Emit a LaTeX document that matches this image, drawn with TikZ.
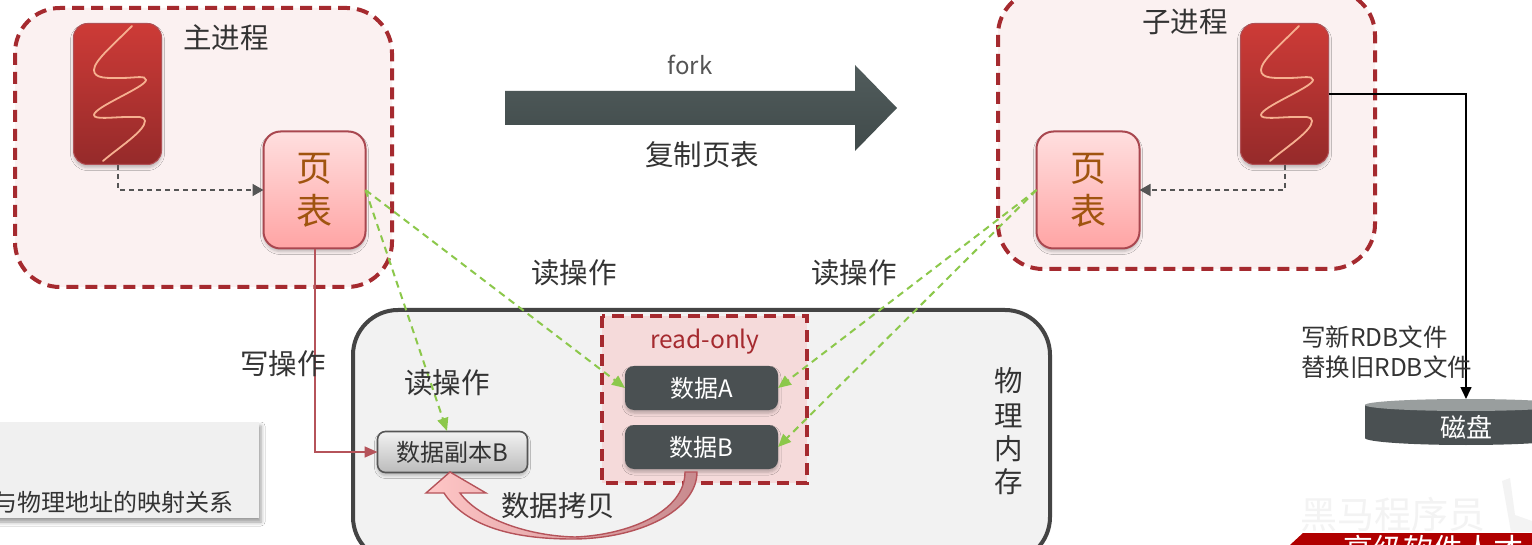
\documentclass[tikz,border=0pt]{standalone}
\usepackage{fontspec}
\setmainfont{Noto Sans CJK SC}
\usetikzlibrary{arrows.meta,shadows.blur,calc}
\definecolor{dred}{HTML}{A52A2F}
\definecolor{procfill}{HTML}{FBF1F1}
\definecolor{slate}{HTML}{4A5052}
\definecolor{gline}{HTML}{8CC84B}
\definecolor{rline}{HTML}{B5535A}
\definecolor{ink}{HTML}{333333}
\definecolor{thtop}{HTML}{CD3B37}
\definecolor{thbot}{HTML}{952A2A}
\definecolor{thedge}{HTML}{B05055}
\definecolor{squigc}{HTML}{F6B090}
\definecolor{ptedge}{HTML}{A9474F}
\definecolor{pttop}{HTML}{FFDFDF}
\definecolor{ptbot}{HTML}{FFA4A4}
\definecolor{pttext}{HTML}{A0540F}
\definecolor{dgrey}{HTML}{555555}
\definecolor{notefill}{HTML}{F0F0F0}
\definecolor{memedge}{HTML}{444444}
\definecolor{memfill}{HTML}{F2F2F2}
\definecolor{rofill}{HTML}{F5DADA}
\definecolor{copybot}{HTML}{BBBBBB}
\definecolor{forktop}{HTML}{515C5C}
\definecolor{forkbot}{HTML}{404A4A}
\definecolor{curvel}{HTML}{FFC6C6}
\definecolor{curver}{HTML}{C88A8E}
\definecolor{disktop}{HTML}{999E9E}
\definecolor{bandred}{HTML}{B00000}
\definecolor{wmark}{HTML}{F3F3F3}
\tikzset{
  x=1pt,y=-1pt,
  every node/.style={inner sep=0pt,outer sep=0pt},
  proc/.style={draw=dred,line width=4pt,fill=procfill,rounded corners=45pt,dash pattern=on 12pt off 7pt},
  threadbox/.style={rounded corners=14pt,top color=thtop,bottom color=thbot,draw=thedge,line width=1pt,
    blur shadow={shadow xshift=0pt,shadow yshift=-3pt,shadow blur radius=3pt,shadow opacity=25}},
  squig/.style={draw=squigc,line width=1.8pt,line cap=round},
  pagetab/.style={draw=ptedge,line width=2pt,rounded corners=17pt,top color=pttop,bottom color=ptbot,
    align=center,text=pttext,font=\fontsize{36pt}{40pt}\selectfont,
    blur shadow={shadow xshift=0pt,shadow yshift=-3pt,shadow blur radius=3pt,shadow opacity=25}},
  label/.style={text=ink,font=\fontsize{28.5pt}{30pt}\selectfont},
  dark/.style={fill=slate,rounded corners=9pt,text=white,font=\fontsize{24pt}{28pt}\selectfont,
    blur shadow={shadow xshift=0pt,shadow yshift=-3pt,shadow blur radius=3pt,shadow opacity=25}},
  dashline/.style={draw=dgrey,line width=1.6pt,dash pattern=on 5pt off 4pt,-{Triangle[length=11pt,width=12pt]}},
  readline/.style={draw=gline,line width=2pt,dash pattern=on 7pt off 5pt,-{Triangle[length=13pt,width=11pt]}},
}
\begin{document}
\begin{tikzpicture}
\useasboundingbox (0,0) rectangle (1532,545);
\clip (0,0) rectangle (1532,545);
\fill[white] (0,0) rectangle (1532,545);
% note panel
\node[fill=notefill,minimum width=280pt,minimum height=96pt,anchor=north east,
  blur shadow={shadow xshift=2pt,shadow yshift=-4pt,shadow blur radius=4pt,shadow opacity=40}] (note) at (259,422) {};
\node[anchor=east,text=ink,font=\fontsize{24pt}{28pt}\selectfont] (notetext) at (234,502) {与物理地址的映射关系};
% process boxes
\draw[proc] (15,8) rectangle (392,287);
\draw[proc] (998,-10) rectangle (1375,269);
% memory
\draw[draw=memedge,line width=4pt,fill=memfill,rounded corners=45pt] (353,310) rectangle (1050,562);
\draw[draw=dred,line width=4pt,fill=rofill,dash pattern=on 12pt off 7pt] (602,316) rectangle (807,483);
\node[text=dred,font=\fontsize{24.5pt}{28pt}\selectfont] (ro) at (705,342) {read-only};
% threads
\node[threadbox,minimum width=88pt,minimum height=141pt,anchor=center] (t1) at (117.5,94) {};
\node[threadbox,minimum width=88pt,minimum height=141pt,anchor=center] (t2) at (1284.5,94) {};
\foreach \sx in {73,1240}{
  \begin{scope}[shift={(\sx,23)}]
  \draw[squig] (59,3) .. controls (40,22) and (21,38) .. (21,47)
     .. controls (21,56) and (35,55) .. (48,55)
     .. controls (62,55) and (73,52) .. (73,57)
     .. controls (73,64) and (21,84) .. (21,92)
     .. controls (21,97) and (40,94) .. (55,94)
     .. controls (65,94) and (72,93) .. (72,98)
     .. controls (72,108) and (45,125) .. (30,138);
  \end{scope}
}
% page tables
\node[pagetab,minimum width=102pt,minimum height=117pt,anchor=center] (p1) at (314.5,190) {\raisebox{-2pt}{页}\\[2pt]\raisebox{-3pt}{表}};
\node[pagetab,minimum width=103pt,minimum height=117pt,anchor=center] (p2) at (1088,190) {\raisebox{-2pt}{页}\\[2pt]\raisebox{-3pt}{表}};
% data boxes
\node[dark,minimum width=153pt,minimum height=44pt,anchor=north west] (da) at (625,366) {数据A};
\node[dark,minimum width=153pt,minimum height=44pt,anchor=north west] (db) at (625,425) {数据B};
\node[draw=dgrey,line width=1.6pt,rounded corners=8pt,top color=white!95!black,bottom color=copybot,
  minimum width=150pt,minimum height=41pt,anchor=center,text=ink,font=\fontsize{24pt}{28pt}\selectfont,
  blur shadow={shadow xshift=0pt,shadow yshift=-3pt,shadow blur radius=3pt,shadow opacity=25}] (copyb) at (452.5,452) {数据副本B};
% fork arrow
\path[top color=forktop,bottom color=forkbot] (505,91) -- (855,91) -- (855,65) -- (897,108) -- (855,151) -- (855,125) -- (505,125) -- cycle;
\node[text=dgrey,font=\fontsize{24pt}{28pt}\selectfont] (fork) at (690,65) {fork};
\node[label] (copypt) at (702,155) {复制页表};
% connectors
\coordinate (t1s) at (118,165);
\coordinate (t2s) at (1285,165);
\coordinate (cbtop) at (447,431);
\coordinate (diskin) at (1466,399);
\coordinate (ptdrop) at (315,249);
\draw[dashline] (t1s) |- (p1.west);
\draw[dashline] (t2s) |- (p2.east);
\draw[readline] (p1.east) -- (da.west);
\draw[readline] (p1.east) -- (cbtop);
\draw[readline] (p2.west) -- (da.east);
\draw[readline] (p2.west) -- (db.east);
\draw[draw=rline,line width=1.6pt,-{Triangle[length=13pt,width=11pt]}] (ptdrop) |- (copyb.west);
\draw[black,line width=1.6pt,-{Triangle[length=12pt,width=11pt]}] (t2.east) -| (diskin);
% copy curved arrow
\draw[draw=rline,line width=1.4pt,left color=curvel,right color=curver,line join=miter]
  (697,472) .. controls (697,510) and (640,539) .. (572,539)
  .. controls (510,539) and (465,525) .. (444,493)
  -- (426,493) -- (450,472) -- (486,493) -- (460,493)
  .. controls (480,520) and (530,536) .. (575,537)
  .. controls (628,535) and (685,512) .. (685,472) -- cycle;
% labels
\node[label] (lmain) at (226,38) {主进程};
\node[label] (lchild) at (1185,22) {子进程};
\node[label] (r1) at (574,273) {读操作};
\node[label] (r2) at (854,273) {读操作};
\node[label] (r3) at (447,383) {读操作};
\node[label] (w1) at (283,364) {写操作};
\node[label] (dc) at (558,506) {数据拷贝};
\node[label] (m1) at (1009,381) {物};
\node[label] (m2) at (1009,416) {理};
\node[label] (m3) at (1009,449) {内};
\node[label] (m4) at (1009,482) {存};
% disk
\fill[slate] (1365,405) -- (1365,438) arc[x radius=101,y radius=7,start angle=180,end angle=0] -- (1567,405) -- cycle;
\fill[disktop] (1466,405) ellipse[x radius=101pt,y radius=6pt];
\node[text=white,font=\fontsize{26pt}{30pt}\selectfont] (disk) at (1466,427) {磁盘};
\node[anchor=west,text=ink,font=\fontsize{24.5pt}{30pt}\selectfont,align=left] (rdb) at (1301,352) {写新RDB文件\\替换旧RDB文件};
% footer
\fill[wmark] (1502,481) -- (1510,478) -- (1515,515) -- (1532,521) -- (1532,532) -- (1511,532) -- cycle;
\fill[bandred] (1290,545) -- (1303,533) -- (1532,533) -- (1532,545) -- cycle;
\node[text=white,font=\fontsize{30pt}{32pt}\selectfont,anchor=north west] (band) at (1343,535) {高级软件人才};
\node[text=wmark,font=\fontsize{37pt}{40pt}\selectfont] (wm) at (1393,514) {黑马程序员};
\end{tikzpicture}
\end{document}
